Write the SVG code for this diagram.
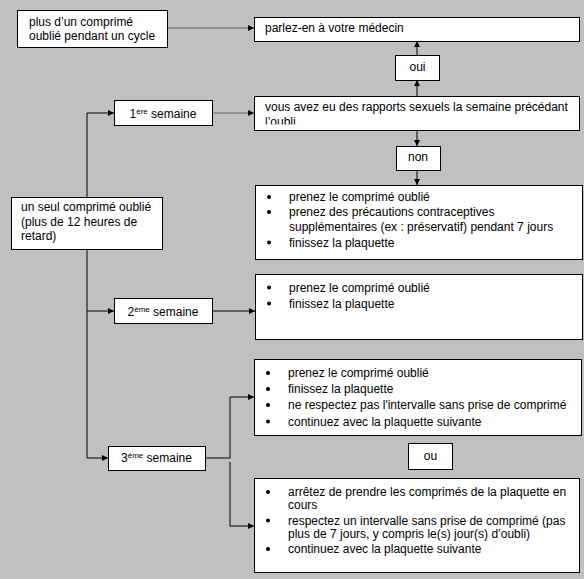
<svg xmlns="http://www.w3.org/2000/svg" width="584" height="579" viewBox="0 0 584 579">
<style>
.bx{fill:#fff;stroke:#000;stroke-width:1}
text{font-family:"Liberation Sans",Arial,sans-serif;font-size:12px;fill:#000}
.c{stroke:#000;stroke-width:1;fill:none}
.g{stroke:#808080;stroke-width:1.5;fill:none}
.a{marker-end:url(#ah)}
.sup{font-size:8px}
.dot{fill:#000}
</style>
<defs>
<marker id="ah" markerUnits="userSpaceOnUse" markerWidth="6" markerHeight="6" refX="6" refY="3" orient="auto">
<path d="M0,0 L6,3 L0,6 z" fill="#000"/>
</marker>
<clipPath id="clipVous"><rect x="254" y="96" width="325" height="28.6"/></clipPath>
</defs>
<rect width="584" height="579" fill="#c0c0c0"/>
<g id="connectors">
<path class="g a" d="M167.5,28 H254"/>
<path class="g a" d="M212.5,113 H254"/>
<path class="c a" d="M417,96 V80"/>
<path class="c a" d="M417,55 V41"/>
<path class="c a" d="M417,130 V146"/>
<path class="c a" d="M417,170 V185"/>
<path class="c" d="M87,113 V458"/>
<path class="c a" d="M87,113 H114"/>
<path class="c a" d="M87,311 H114"/>
<path class="c a" d="M87,458 H108"/>
<path class="c a" d="M212.5,311 H255"/>
<path class="c a" d="M205.5,458 H230 V397 H254"/>
<path class="c a" d="M230,462 V526 H254"/>
</g>
<g id="n-plus">
<rect class="bx" x="17.5" y="10.5" width="150" height="37"/>
<text x="29" y="26">plus d’un comprimé</text>
<text x="29" y="40">oublié pendant un cycle</text>
</g>
<g id="n-parlez">
<rect class="bx" x="254.5" y="17.5" width="325" height="24"/>
<text x="265" y="32">parlez-en à votre médecin</text>
</g>
<g id="n-oui">
<rect class="bx" x="395.5" y="55.5" width="44" height="25"/>
<text x="417.5" y="71" text-anchor="middle">oui</text>
</g>
<g id="n-vous">
<rect class="bx" x="254.5" y="96.5" width="325" height="34"/>
<g clip-path="url(#clipVous)">
<text x="265" y="111">vous avez eu des rapports sexuels la semaine précédant</text>
<text x="265" y="125.5">l’oubli</text>
</g>
</g>
<g id="n-1ere">
<rect class="bx" x="114.5" y="100.5" width="98" height="25"/>
<text x="163" y="118" text-anchor="middle">1<tspan class="sup" dy="-4">ère</tspan><tspan dy="4"> semaine</tspan></text>
</g>
<g id="n-non">
<rect class="bx" x="396.5" y="146.5" width="44" height="24"/>
<text x="418" y="161" text-anchor="middle">non</text>
</g>
<g id="n-seul">
<rect class="bx" x="11.5" y="197.5" width="151" height="52"/>
<text x="21" y="211">un seul comprimé oublié</text>
<text x="21" y="225.5">(plus de 12 heures de</text>
<text x="21" y="240">retard)</text>
</g>
<g id="n-b1">
<rect class="bx" x="255.5" y="185.5" width="327" height="74"/>
<circle class="dot" cx="269" cy="197" r="2"/>
<text x="289" y="201">prenez le comprimé oublié</text>
<circle class="dot" cx="269" cy="212" r="2"/>
<text x="289" y="216">prenez des précautions contraceptives</text>
<text x="289" y="230.5">supplémentaires (ex : préservatif) pendant 7 jours</text>
<circle class="dot" cx="269" cy="242.5" r="2"/>
<text x="289" y="246.5">finissez la plaquette</text>
</g>
<g id="n-2eme">
<rect class="bx" x="114.5" y="298.5" width="98" height="25"/>
<text x="163" y="316" text-anchor="middle">2<tspan class="sup" dy="-4">ème</tspan><tspan dy="4"> semaine</tspan></text>
</g>
<g id="n-b2">
<rect class="bx" x="255.5" y="274.5" width="327" height="65"/>
<circle class="dot" cx="269" cy="287.5" r="2"/>
<text x="289" y="291.5">prenez le comprimé oublié</text>
<circle class="dot" cx="269" cy="303.5" r="2"/>
<text x="289" y="307.5">finissez la plaquette</text>
</g>
<g id="n-b3a">
<rect class="bx" x="254.5" y="359.5" width="327" height="76"/>
<circle class="dot" cx="268" cy="373" r="2"/>
<text x="288" y="377">prenez le comprimé oublié</text>
<circle class="dot" cx="268" cy="389" r="2"/>
<text x="288" y="393">finissez la plaquette</text>
<circle class="dot" cx="268" cy="405" r="2"/>
<text x="288" y="409">ne respectez pas l'intervalle sans prise de comprimé</text>
<circle class="dot" cx="268" cy="421.5" r="2"/>
<text x="288" y="425.5">continuez avec la plaquette suivante</text>
</g>
<g id="n-3eme">
<rect class="bx" x="108.5" y="446.5" width="97" height="24"/>
<text x="156.5" y="462" text-anchor="middle">3<tspan class="sup" dy="-4">ème</tspan><tspan dy="4"> semaine</tspan></text>
</g>
<g id="n-ou">
<rect class="bx" x="408.5" y="443.5" width="44" height="26"/>
<text x="430.5" y="460" text-anchor="middle">ou</text>
</g>
<g id="n-b3b">
<rect class="bx" x="254.5" y="478.5" width="325" height="94"/>
<circle class="dot" cx="268" cy="492" r="2"/>
<text x="288" y="496">arrêtez de prendre les comprimés de la plaquette en</text>
<text x="288" y="509">cours</text>
<circle class="dot" cx="268" cy="520.5" r="2"/>
<text x="288" y="524.5">respectez un intervalle sans prise de comprimé (pas</text>
<text x="288" y="538">plus de 7 jours, y compris le(s) jour(s) d’oubli)</text>
<circle class="dot" cx="268" cy="549" r="2"/>
<text x="288" y="553">continuez avec la plaquette suivante</text>
</g>
</svg>
